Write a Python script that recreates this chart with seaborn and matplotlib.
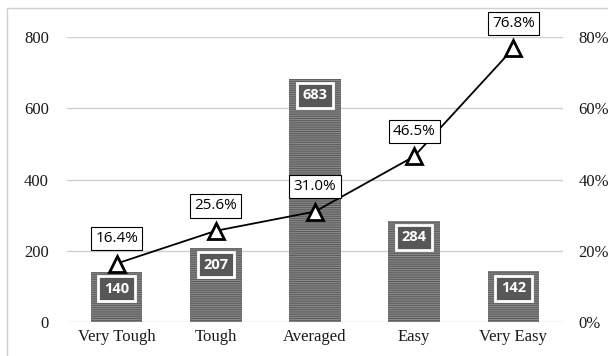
import numpy as np
import pandas as pd
import matplotlib
matplotlib.use("Agg")
import matplotlib.pyplot as plt
import seaborn as sns
from matplotlib.patches import Rectangle

categories = ["Very Tough", "Tough", "Averaged", "Easy", "Very Easy"]
counts = [140, 207, 683, 284, 142]
percents = [16.4, 25.6, 31.0, 46.5, 76.8]
left_ticks = [0, 200, 400, 600, 800]
right_ticks = [0, 20, 40, 60, 80]

sns.set_theme(style="white")
plt.rcParams["font.family"] = ["Liberation Serif", "DejaVu Serif"]
plt.rcParams["hatch.color"] = "#8c8c8c"
plt.rcParams["hatch.linewidth"] = 0.7

W, H = 608, 356
fig = plt.figure(figsize=(W / 100, H / 100), dpi=100)
ax = fig.add_axes([67 / W, (H - 322) / H, (563 - 67) / W, (322 - 37) / H])

bar_color = "#575757"
df = pd.DataFrame({"category": categories, "count": counts})
sns.barplot(data=df, x="category", y="count", ax=ax, color=bar_color,
            width=0.52, saturation=1, zorder=2)
for bar in ax.patches:
    bar.set_hatch("---------")
    bar.set_edgecolor("#8c8c8c")
    bar.set_linewidth(0)

ax.set_xlim(-0.5, len(categories) - 0.5)
ax.set_ylim(0, 800)
ax.set_yticks(left_ticks)
ax.set_yticklabels([str(t) for t in left_ticks])
ax.set_xlabel("")
ax.set_ylabel("")
for y in left_ticks:
    ax.axhline(y, color="#cfcfcf", lw=1, zorder=0)
for s in ax.spines.values():
    s.set_visible(False)
ax.tick_params(axis="both", length=0, labelsize=12, colors="#1a1a1a")
ax.tick_params(axis="y", pad=13)
ax.tick_params(axis="x", pad=5)

# value labels inside bars
for i, v in enumerate(counts):
    ax.annotate(str(v), (i, v), xytext=(0, -12), textcoords="offset points",
                ha="center", va="center", color="white", fontsize=10.5,
                fontweight="bold", family=["Open Sans", "DejaVu Sans"],
                bbox=dict(boxstyle="square,pad=0.38", fc=bar_color,
                          ec="white", lw=2), zorder=4)

# percentage line on secondary axis
ax2 = ax.twinx()
x = np.arange(len(categories))
sns.lineplot(x=x, y=percents, ax=ax2, color="black", lw=1.3,
             marker="^", markersize=12, markerfacecolor="white",
             markeredgecolor="black", markeredgewidth=2, zorder=5)
ax2.set_ylim(0, 80)
ax2.set_yticks(right_ticks)
ax2.set_yticklabels([f"{t}%" for t in right_ticks])
ax2.tick_params(axis="y", length=0, labelsize=12, colors="#1a1a1a", pad=11)
ax2.set_ylabel("")
for s in ax2.spines.values():
    s.set_visible(False)
ax2.grid(False)

for xi, p in zip(x, percents):
    ax2.annotate(f"{p:.1f}%", (xi, p), xytext=(0, 18), textcoords="offset points",
                 ha="center", va="center", color="black", fontsize=11,
                 family=["Open Sans", "DejaVu Sans"],
                 bbox=dict(boxstyle="square,pad=0.28", fc="white",
                           ec="black", lw=0.8), zorder=6, annotation_clip=False)

# chart frame
fig.patches.append(Rectangle((7 / W, -0.1), 1.1, (H - 8) / H + 0.1,
                             transform=fig.transFigure, fill=False,
                             ec="#d0d0d0", lw=1))

fig.savefig("out.png", dpi=100)
